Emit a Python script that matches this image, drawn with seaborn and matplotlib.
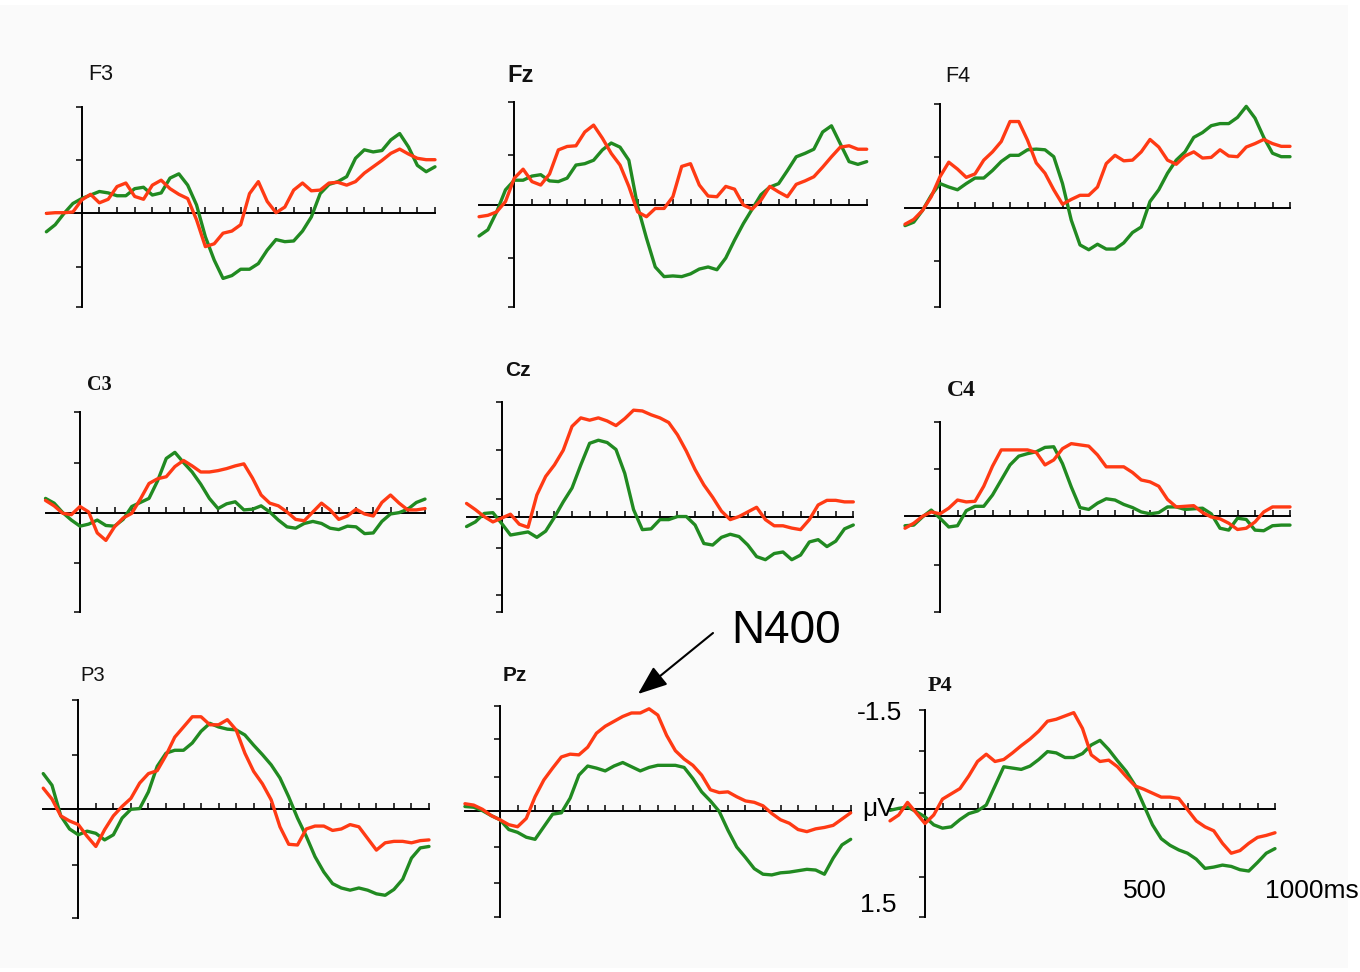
import numpy as np
import pandas as pd
import matplotlib
matplotlib.use("Agg")
import matplotlib.pyplot as plt
from matplotlib.patches import Rectangle
import seaborn as sns

# ---------------- data (μV, negative plotted upward) ----------------
times = list(range(-100, 1001, 25))

f3_green = [0.27, 0.17, 0.01, -0.13, -0.20, -0.25, -0.30, -0.28, -0.24, -0.24, -0.34, -0.36, -0.25, -0.28, -0.49,
            -0.55, -0.39, -0.11, 0.34, 0.67, 0.93, 0.89, 0.80, 0.80, 0.72, 0.53, 0.38, 0.41, 0.40, 0.26, 0.06,
            -0.27, -0.40, -0.44, -0.51, -0.77, -0.89, -0.86, -0.88, -1.03, -1.12, -0.93, -0.67, -0.58, -0.65]
f3_red = [0.01, 0.0, 0.0, -0.01, -0.18, -0.26, -0.14, -0.19, -0.37, -0.42, -0.23, -0.19, -0.39, -0.46, -0.34,
          -0.26, -0.20, 0.10, 0.48, 0.44, 0.29, 0.26, 0.17, -0.27, -0.44, -0.16, 0.0, -0.08, -0.32, -0.42, -0.31,
          -0.32, -0.42, -0.43, -0.39, -0.44, -0.56, -0.65, -0.74, -0.84, -0.90, -0.83, -0.77, -0.75, -0.75]

fz_green = [0.45, 0.36, 0.10, -0.22, -0.36, -0.36, -0.42, -0.44, -0.35, -0.34, -0.39, -0.58, -0.60, -0.65, -0.80,
            -0.90, -0.84, -0.65, 0.02, 0.48, 0.90, 1.04, 1.03, 1.04, 1.00, 0.93, 0.90, 0.94, 0.77, 0.51, 0.27,
            0.06, -0.15, -0.26, -0.31, -0.50, -0.70, -0.75, -0.81, -1.06, -1.15, -0.89, -0.63, -0.59, -0.63]
fz_red = [0.17, 0.15, 0.10, -0.05, -0.39, -0.52, -0.34, -0.29, -0.45, -0.80, -0.85, -0.86, -1.06, -1.16, -0.97,
          -0.75, -0.58, -0.27, 0.10, 0.17, 0.05, 0.05, -0.12, -0.56, -0.60, -0.29, -0.13, -0.12, -0.27, -0.23, 0.0,
          0.06, -0.07, -0.27, -0.19, -0.12, -0.30, -0.35, -0.41, -0.55, -0.70, -0.84, -0.86, -0.81, -0.81]

f4_green = [0.26, 0.21, 0.04, -0.18, -0.35, -0.30, -0.26, -0.35, -0.43, -0.43, -0.54, -0.67, -0.76, -0.76, -0.84,
            -0.85, -0.84, -0.74, -0.35, 0.18, 0.54, 0.61, 0.53, 0.60, 0.60, 0.51, 0.36, 0.28, -0.09, -0.26, -0.50,
            -0.69, -0.81, -1.02, -1.09, -1.19, -1.22, -1.22, -1.31, -1.47, -1.30, -1.02, -0.79, -0.74, -0.74]
f4_red = [0.24, 0.17, 0.04, -0.16, -0.45, -0.66, -0.56, -0.44, -0.49, -0.69, -0.81, -0.96, -1.25, -1.25, -0.98,
          -0.65, -0.50, -0.26, -0.05, -0.12, -0.18, -0.18, -0.30, -0.64, -0.76, -0.68, -0.69, -0.81, -0.99, -0.88,
          -0.69, -0.63, -0.75, -0.81, -0.72, -0.73, -0.84, -0.75, -0.74, -0.88, -0.93, -0.99, -0.93, -0.89, -0.89]

c3_green = [-0.22, -0.15, -0.01, 0.10, 0.19, 0.16, 0.10, 0.18, 0.19, 0.09, -0.10, -0.16, -0.22, -0.48, -0.81,
            -0.90, -0.75, -0.61, -0.43, -0.22, -0.07, -0.14, -0.17, -0.05, -0.06, -0.11, -0.02, 0.10, 0.20, 0.22,
            0.15, 0.12, 0.15, 0.22, 0.24, 0.19, 0.20, 0.30, 0.29, 0.12, 0.01, -0.01, -0.06, -0.16, -0.21]
c3_red = [-0.19, -0.11, 0.0, 0.02, -0.10, -0.02, 0.29, 0.40, 0.20, 0.07, 0.0, -0.21, -0.44, -0.51, -0.54, -0.69,
          -0.78, -0.70, -0.61, -0.61, -0.63, -0.66, -0.70, -0.73, -0.52, -0.27, -0.15, -0.11, -0.02, 0.09, 0.11,
          -0.02, -0.15, -0.05, 0.09, 0.04, -0.06, 0.01, 0.04, -0.16, -0.27, -0.15, -0.05, -0.05, -0.07]

cz_green = [0.12, 0.06, -0.05, -0.06, 0.08, 0.23, 0.21, 0.19, 0.26, 0.18, 0.0, -0.20, -0.38, -0.68, -0.96, -1.00,
            -0.97, -0.88, -0.57, -0.10, 0.16, 0.15, 0.03, 0.03, -0.01, -0.01, 0.10, 0.34, 0.36, 0.26, 0.22, 0.25,
            0.36, 0.51, 0.55, 0.47, 0.45, 0.55, 0.49, 0.32, 0.29, 0.38, 0.31, 0.15, 0.10]
cz_red = [-0.18, -0.10, -0.01, 0.06, 0.01, -0.04, 0.09, 0.13, -0.29, -0.53, -0.68, -0.87, -1.18, -1.29, -1.26,
          -1.29, -1.25, -1.19, -1.28, -1.39, -1.38, -1.33, -1.29, -1.23, -1.07, -0.86, -0.62, -0.42, -0.26, -0.08,
          0.03, -0.01, -0.07, -0.13, 0.03, 0.11, 0.11, 0.14, 0.16, 0.03, -0.16, -0.22, -0.22, -0.20, -0.20]

c4_green = [0.16, 0.15, 0.02, -0.09, 0.04, 0.18, 0.16, -0.08, -0.15, -0.15, -0.33, -0.57, -0.81, -0.95, -0.99,
            -1.02, -1.09, -1.10, -0.83, -0.46, -0.13, -0.10, -0.20, -0.27, -0.25, -0.18, -0.13, -0.06, -0.03, -0.05,
            -0.14, -0.14, -0.10, -0.11, -0.12, -0.03, 0.20, 0.23, 0.04, 0.06, 0.23, 0.24, 0.16, 0.15, 0.15]
c4_red = [0.20, 0.12, 0.01, -0.06, -0.03, -0.12, -0.25, -0.22, -0.23, -0.47, -0.79, -1.05, -1.05, -1.05, -1.05,
          -1.01, -0.81, -0.89, -1.07, -1.15, -1.13, -1.11, -0.97, -0.78, -0.78, -0.78, -0.69, -0.57, -0.54, -0.47,
          -0.26, -0.14, -0.15, -0.16, -0.05, 0.02, 0.05, 0.12, 0.22, 0.20, 0.10, -0.06, -0.14, -0.14, -0.14]

p3_green = [-0.49, -0.33, 0.09, 0.27, 0.35, 0.30, 0.33, 0.42, 0.35, 0.12, 0.0, -0.01, -0.24, -0.59, -0.77, -0.81,
            -0.81, -0.91, -1.07, -1.18, -1.13, -1.10, -1.09, -1.02, -0.88, -0.75, -0.61, -0.43, -0.17, 0.12, 0.37,
            0.65, 0.86, 1.02, 1.08, 1.11, 1.08, 1.11, 1.16, 1.18, 1.10, 0.96, 0.67, 0.53, 0.51]
p3_red = [-0.29, -0.14, 0.09, 0.16, 0.21, 0.37, 0.51, 0.28, 0.09, -0.04, -0.15, -0.36, -0.49, -0.53, -0.74, -0.99,
          -1.13, -1.27, -1.27, -1.16, -1.16, -1.23, -1.09, -0.77, -0.52, -0.35, -0.13, 0.24, 0.48, 0.49, 0.27,
          0.23, 0.23, 0.29, 0.27, 0.21, 0.24, 0.40, 0.56, 0.46, 0.44, 0.44, 0.46, 0.43, 0.42]

pz_green = [-0.06, -0.05, 0.0, 0.07, 0.13, 0.27, 0.31, 0.38, 0.41, 0.23, 0.05, 0.03, -0.18, -0.51, -0.64, -0.61,
            -0.57, -0.64, -0.69, -0.63, -0.57, -0.62, -0.65, -0.65, -0.65, -0.62, -0.46, -0.27, -0.14, 0.01, 0.28,
            0.52, 0.67, 0.83, 0.91, 0.92, 0.89, 0.88, 0.86, 0.84, 0.85, 0.91, 0.68, 0.49, 0.41]
pz_red = [-0.10, -0.08, -0.02, 0.07, 0.13, 0.20, 0.23, 0.11, -0.20, -0.44, -0.61, -0.77, -0.81, -0.80, -0.91,
          -1.11, -1.21, -1.28, -1.35, -1.40, -1.40, -1.46, -1.37, -1.08, -0.86, -0.74, -0.65, -0.51, -0.30, -0.26,
          -0.27, -0.20, -0.14, -0.12, -0.07, 0.04, 0.13, 0.18, 0.27, 0.30, 0.26, 0.24, 0.21, 0.12, 0.03]

p4_green = [0.02, -0.01, -0.03, 0.04, 0.12, 0.24, 0.29, 0.27, 0.16, 0.07, 0.03, -0.06, -0.35, -0.64, -0.62, -0.60,
            -0.65, -0.75, -0.87, -0.85, -0.78, -0.78, -0.84, -0.97, -1.04, -0.90, -0.73, -0.57, -0.36, -0.06, 0.24,
            0.45, 0.55, 0.62, 0.67, 0.76, 0.90, 0.88, 0.85, 0.87, 0.92, 0.94, 0.81, 0.67, 0.60]
p4_red = [0.18, 0.09, -0.10, 0.06, 0.22, 0.09, -0.15, -0.23, -0.31, -0.50, -0.72, -0.83, -0.72, -0.75, -0.85,
          -0.96, -1.06, -1.18, -1.33, -1.36, -1.41, -1.46, -1.22, -0.82, -0.72, -0.74, -0.64, -0.49, -0.35, -0.30,
          -0.24, -0.18, -0.18, -0.16, 0.01, 0.18, 0.27, 0.33, 0.52, 0.67, 0.63, 0.52, 0.43, 0.40, 0.36]

electrodes = ["F3", "Fz", "F4", "C3", "Cz", "C4", "P3", "Pz", "P4"]
red_series = [f3_red, fz_red, f4_red, c3_red, cz_red, c4_red, p3_red, pz_red, p4_red]
green_series = [f3_green, fz_green, f4_green, c3_green, cz_green, c4_green, p3_green, pz_green, p4_green]
conditions = ["congruent", "incongruent"]

# ---------------- style / layout ----------------
RED = "#ff3a14"
GREEN = "#218a21"
W, H = 1360, 972

sns.set_style("white")
plt.rcParams['font.family'] = ['Liberation Sans', 'DejaVu Sans']

# pixel geometry of each panel: zero-time x, 1000ms x, top(-1.5) y, baseline y, bottom y, tick y's
layout = {
    "F3": dict(x0=81.7, x1=435, ytop=106.7, ybase=212.7, ybot=306.7, ticks=[160, 266.7],
               lab=(88, 80), fam="Liberation Sans", fs=15.5, fw="normal"),
    "Fz": dict(x0=514.3, x1=866.7, ytop=101.7, ybase=205, ybot=306.7, ticks=[155, 258],
               lab=(507, 82), fam="Liberation Sans", fs=17, fw="bold"),
    "F4": dict(x0=940, x1=1290, ytop=104.3, ybase=207.7, ybot=306.7, ticks=[156.7, 261],
               lab=(945, 82), fam="Liberation Sans", fs=15.5, fw="normal"),
    "C3": dict(x0=80, x1=425, ytop=411.7, ybase=513.3, ybot=611.7, ticks=[463.3, 562.7],
               lab=(87, 390), fam="Liberation Serif", fs=14.5, fw="bold"),
    "Cz": dict(x0=501.7, x1=853.3, ytop=401.7, ybase=517.3, ybot=611.7, ticks=[450, 499, 547.7, 595],
               lab=(505, 376), fam="Liberation Sans", fs=15, fw="bold"),
    "C4": dict(x0=940, x1=1290, ytop=421.7, ybase=515.7, ybot=611.7, ticks=[469, 565],
               lab=(947, 396), fam="Liberation Serif", fs=17, fw="bold"),
    "P3": dict(x0=78.3, x1=429, ytop=700, ybase=809.3, ybot=918.3, ticks=[755, 865],
               lab=(80, 681), fam="Liberation Sans", fs=14.5, fw="normal"),
    "Pz": dict(x0=500, x1=850.7, ytop=706, ybase=810.7, ybot=916.7, ticks=[739, 777, 846.7, 883],
               lab=(503, 681), fam="Liberation Sans", fs=15, fw="bold"),
    "P4": dict(x0=925, x1=1275, ytop=710, ybase=809, ybot=917.3, ticks=[750.7, 792.7, 877],
               lab=(928, 691), fam="Liberation Serif", fs=16, fw="bold"),
}

fig = plt.figure(figsize=(W / 100, H / 100), dpi=100, facecolor="white")
fig.patches.append(Rectangle((0, 1 - 968 / H), 1348 / W, (968 - 5) / H, transform=fig.transFigure,
                             facecolor="#fafafa", edgecolor="none", zorder=-10))

XL = (-112, 1006)
for name, red, green in zip(electrodes, red_series, green_series):
    g = layout[name]
    sx = (g["x1"] - g["x0"]) / 1000.0
    sy = (g["ybase"] - g["ytop"]) / 1.5
    ybot_val = (g["ybot"] - g["ybase"]) / sy
    yl_top, yl_bot = -1.56, ybot_val + 0.06
    left_px = g["x0"] + XL[0] * sx
    width_px = (XL[1] - XL[0]) * sx
    top_px = g["ybase"] + yl_top * sy
    bot_px = g["ybase"] + yl_bot * sy
    ax = fig.add_axes([left_px / W, 1 - bot_px / H, width_px / W, (bot_px - top_px) / H])
    ax.patch.set_alpha(0)

    df = pd.DataFrame({
        "time": times + times,
        "uV": green + red,
        "condition": ["congruent"] * len(times) + ["incongruent"] * len(times),
    })
    sns.lineplot(data=df, x="time", y="uV", hue="condition", hue_order=conditions,
                 palette={"congruent": GREEN, "incongruent": RED}, estimator=None,
                 linewidth=2.4, legend=False, ax=ax)

    ax.set_xlim(*XL)
    ax.set_ylim(yl_bot, yl_top)
    ax.set_xlabel("")
    ax.set_ylabel("")
    for s in ("top", "right"):
        ax.spines[s].set_visible(False)
    ax.spines["left"].set_position(("data", 0))
    ax.spines["bottom"].set_position(("data", 0))
    ax.spines["left"].set_bounds(-1.5, ybot_val)
    ax.spines["bottom"].set_bounds(-100, 1000)
    for s in ("left", "bottom"):
        ax.spines[s].set_linewidth(1.4)
        ax.spines[s].set_color("black")
        ax.spines[s].set_zorder(1)
    ax.set_xticks(np.arange(0, 1001, 50))
    yt = [-1.5] + [(t - g["ybase"]) / sy for t in g["ticks"]] + [ybot_val]
    ax.set_yticks(yt)
    ax.tick_params(axis="x", direction="in", length=4, width=1.1, color="black",
                   labelbottom=False, bottom=True)
    ax.tick_params(axis="y", direction="out", length=4, width=1.1, color="black",
                   labelleft=False, left=True)

    lx, ly = g["lab"]
    fig.text(lx / W, 1 - ly / H, name, ha="left", va="baseline",
             family=[g["fam"], "DejaVu Sans"], fontsize=g["fs"], fontweight=g["fw"], color="#111111")

# scale annotations (P4 panel)
txt = dict(family=["Liberation Sans", "DejaVu Sans"], fontsize=19, color="black")
fig.text(902 / W, 1 - 720 / H, "-1.5", ha="right", va="baseline", **txt)
fig.text(862 / W, 1 - 816 / H, "μV", ha="left", va="baseline", **txt)
fig.text(896 / W, 1 - 912 / H, "1.5", ha="right", va="baseline", **txt)
fig.text(1123 / W, 1 - 898 / H, "500", ha="left", va="baseline", **txt)
fig.text(1265 / W, 1 - 898 / H, "1000ms", ha="left", va="baseline", **txt)

# N400 annotation
fig.text(731 / W, 1 - 643 / H, "N400", ha="left", va="baseline",
         family=["Liberation Sans", "DejaVu Sans"], fontsize=33, color="black")
fig.add_artist(matplotlib.patches.FancyArrowPatch(
    (713 / W, 1 - 633 / H), (638 / W, 1 - 694 / H), transform=fig.transFigure,
    arrowstyle="-|>,head_length=0.9,head_width=0.35", mutation_scale=20,
    color="black", linewidth=1.5, shrinkA=0, shrinkB=0))

fig.savefig("out.png", dpi=100, facecolor=fig.get_facecolor())
